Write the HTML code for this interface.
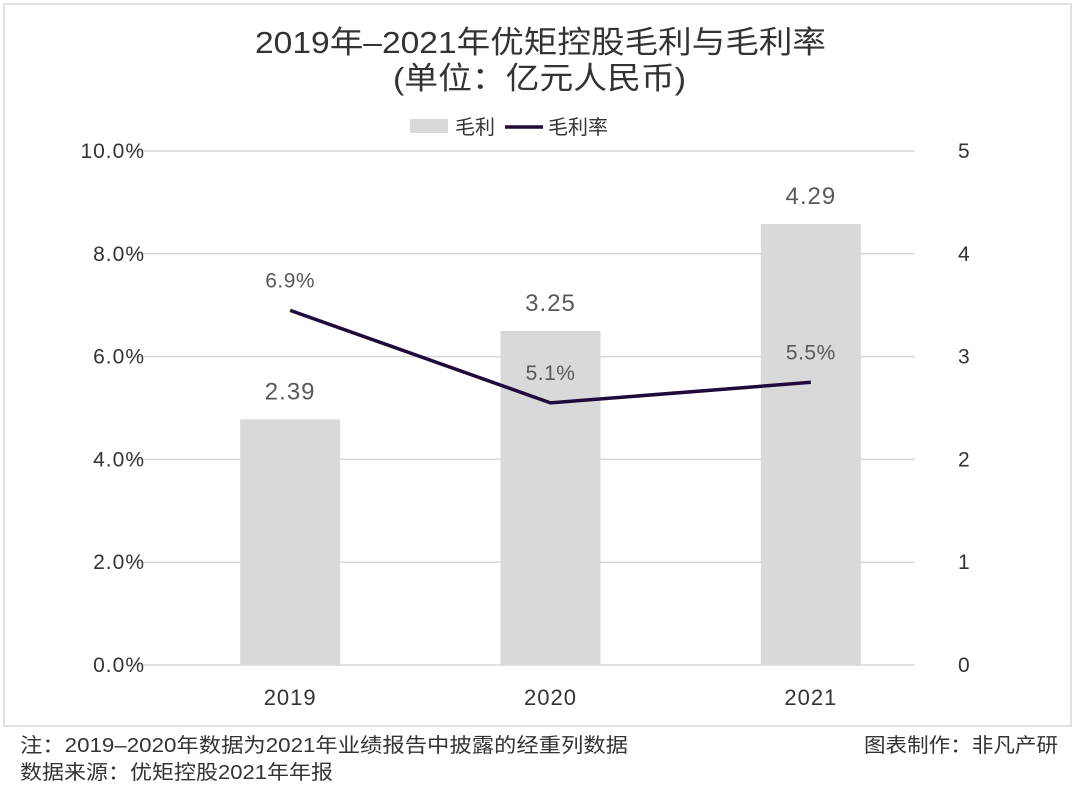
<!DOCTYPE html>
<html><head><meta charset="utf-8"><style>
body{margin:0;width:1080px;height:793px;background:#fff;font-family:"Liberation Sans","Noto Sans CJK SC",sans-serif;overflow:hidden}
</style></head><body>
<svg width="1080" height="793" xmlns="http://www.w3.org/2000/svg" font-family="Liberation Sans, Noto Sans CJK SC, sans-serif">
<rect x="4" y="4" width="1067" height="722" fill="#fff" stroke="#d9d9d9" stroke-width="1.5"/>
<text x="255" y="53" font-size="31" textLength="571" lengthAdjust="spacingAndGlyphs" fill="#333">2019年–2021年优矩控股毛利与毛利率</text>
<text x="393" y="89" font-size="31" textLength="293" lengthAdjust="spacingAndGlyphs" fill="#333">(单位：亿元人民币)</text>
<g>
<rect x="410" y="119" width="38" height="14" fill="#d9d9d9"/>
<text x="455" y="134" font-size="20" fill="#333">毛利</text>
<line x1="505" y1="127" x2="543" y2="127" stroke="#1f0a3c" stroke-width="3.5"/>
<text x="548" y="134" font-size="20" fill="#333">毛利率</text>
</g>
<g id="grid"></g><g id="bars"></g><g id="line"></g><g id="labels"></g>
<text x="20" y="752" font-size="20" textLength="608" lengthAdjust="spacingAndGlyphs" fill="#333">注：2019–2020年数据为2021年业绩报告中披露的经重列数据</text>
<text x="20" y="779" font-size="20" textLength="313" lengthAdjust="spacingAndGlyphs" fill="#333">数据来源：优矩控股2021年年报</text>
<text x="864" y="752" font-size="20" textLength="194" lengthAdjust="spacingAndGlyphs" fill="#333">图表制作：非凡产研</text>
</svg>
<script>
const categories=["2019","2020","2021"];
const grossProfit=[2.39,3.25,4.29];
const grossMargin=[6.9,5.1,5.5];
const leftTicks=["0.0%","2.0%","4.0%","6.0%","8.0%","10.0%"];
const rightTicks=["0","1","2","3","4","5"];
const NS="http://www.w3.org/2000/svg";
const y0=665,y1=151,x0=160,x1=941;
const yR=v=>y0-(v/5)*(y0-y1);
const yL=v=>y0-(v/10)*(y0-y1);
const band=(x1-x0)/categories.length;
const xC=i=>x0+band*(i+0.5);
function mk(tag,attrs,parent,txt){const e=document.createElementNS(NS,tag);for(const k in attrs)e.setAttribute(k,attrs[k]);if(txt!=null)e.textContent=txt;document.getElementById(parent).appendChild(e);return e;}
leftTicks.forEach((t,i)=>{const y=y0-i*(y0-y1)/5;
const g=mk('line',{x1:x0-27,x2:x1-26,y1:y,y2:y,stroke:'#d9d9d9','stroke-width':1.5},'grid');


const a=mk('text',{x:145,y:y+7,'font-size':21,'letter-spacing':1,'text-anchor':'end',fill:'#333'},'grid',t);


const b=mk('text',{x:958,y:y+7,'font-size':21,fill:'#333'},'grid',rightTicks[i]);

});
categories.forEach((c,i)=>{const x=xC(i);
const r=mk('rect',{x:x-50,y:yR(grossProfit[i]),width:100,height:y0-yR(grossProfit[i]),fill:'#d9d9d9'},'bars');


const l=mk('text',{x:x,y:yR(grossProfit[i])-20,'font-size':24,'letter-spacing':1,'text-anchor':'middle',fill:'#595959'},'labels',grossProfit[i].toFixed(2));


const xl=mk('text',{x:x,y:705,'font-size':22,'letter-spacing':1,'text-anchor':'middle',fill:'#333'},'labels',c);


const m=mk('text',{x:x,y:yL(grossMargin[i])-23,'font-size':21,'letter-spacing':0.5,'text-anchor':'middle',fill:'#595959'},'labels',grossMargin[i].toFixed(1)+'%');

});
const pl=mk('polyline',{points:categories.map((c,i)=>xC(i)+','+yL(grossMargin[i])).join(' '),fill:'none',stroke:'#1f0a3c','stroke-width':3.5},'line');


</script>
</body></html>
